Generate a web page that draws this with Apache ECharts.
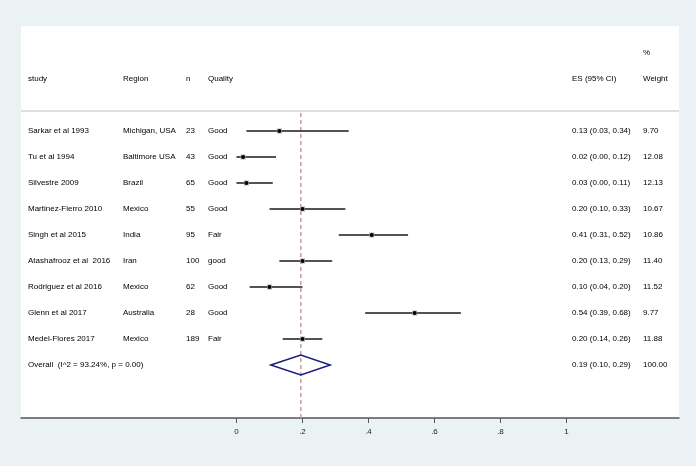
<!DOCTYPE html>
<html><head><meta charset="utf-8">
<script src="https://cdn.jsdelivr.net/npm/echarts@6/dist/echarts.min.js"></script>
<style>html,body{margin:0;padding:0;background:#eaf2f3}#c{width:696px;height:466px}</style>
</head><body><div id="c"></div>
<script>
const studies=["Sarkar et al 1993","Tu et al 1994","Silvestre 2009","Martinez-Fierro 2010","Singh et al 2015","Atashafrooz et al  2016","Rodriguez et al 2016","Glenn et al 2017","Medel-Flores 2017"];
const regions=["Michigan, USA","Baltimore USA","Brazil","Mexico","India","Iran","Mexico","Australia","Mexico"];
const sampleN=["23","43","65","55","95","100","62","28","189"];
const quality=["Good","Good","Good","Good","Fair","good","Good","Good","Fair"];
const es=[0.13,0.02,0.03,0.20,0.41,0.20,0.10,0.54,0.20];
const lo=[0.03,0.00,0.00,0.10,0.31,0.13,0.04,0.39,0.14];
const hi=[0.34,0.12,0.11,0.33,0.52,0.29,0.20,0.68,0.26];
const esLabels=["0.13 (0.03, 0.34)","0.02 (0.00, 0.12)","0.03 (0.00, 0.11)","0.20 (0.10, 0.33)","0.41 (0.31, 0.52)","0.20 (0.13, 0.29)","0.10 (0.04, 0.20)","0.54 (0.39, 0.68)","0.20 (0.14, 0.26)"];
const weights=["9.70","12.08","12.13","10.67","10.86","11.40","11.52","9.77","11.88"];
const overallLabel="Overall  (I^2 = 93.24%, p = 0.00)";
const overallEs=0.195, overallLo=0.104, overallHi=0.284;
const overallEsLabel="0.19 (0.10, 0.29)";
const overallWeight="100.00";
const headers=["study","Region","n","Quality","ES (95% CI)","Weight"];
const headerTop="%";
const tickValues=[0,0.2,0.4,0.6,0.8,1];
const tickLabels=["0",".2",".4",".6",".8","1"];

const FONT='8px "Liberation Sans", Arial, sans-serif';
const TXT='#000000';
const COLX=[28,123,186,208,572,643];
const HEADER_ROW=-2, TOP_ROW=-3, LINE_ROW=-0.77;
const nStudies=studies.length;
const overallRow=nStudies;

function txt(x,y,s){return {type:'text',style:{x:x,y:y,text:s,fill:TXT,font:FONT,verticalAlign:'middle',align:'left'}};}

const textData=[];
for(let i=0;i<nStudies;i++) textData.push([0,i,i]);
textData.push([0,overallRow,-1]);

const chart=echarts.init(document.getElementById('c'),null,{renderer:'canvas'});
chart.setOption({
  backgroundColor:'#eaf2f3',
  animation:false,
  grid:{left:21,right:17,top:26,bottom:48,show:true,backgroundColor:'#ffffff',borderWidth:0},
  xAxis:{type:'value',min:-0.653,max:1.341,
    axisLine:{show:true,onZero:false,lineStyle:{color:'#555555',width:1.5}},
    splitLine:{show:false},
    axisTick:{show:true,customValues:tickValues,length:5,lineStyle:{color:'#555555',width:1}},
    axisLabel:{customValues:tickValues,margin:10,color:'#222222',fontSize:8,fontFamily:'"Liberation Sans", Arial, sans-serif',
      formatter:function(v){const k=tickValues.findIndex(t=>Math.abs(t-v)<1e-9);return k>=0?tickLabels[k]:'';}}
  },
  yAxis:{type:'value',inverse:true,min:-4.038,max:11.038,show:false},
  series:[
    {type:'custom',name:'header',data:[[0,HEADER_ROW]],silent:true,
     renderItem:function(params,api){
       const cs=params.coordSys;
       const y=api.coord([0,HEADER_ROW])[1];
       const yt=api.coord([0,TOP_ROW])[1];
       const yl=api.coord([0,LINE_ROW])[1];
       const ch=headers.map((h,k)=>txt(COLX[k],y,h));
       ch.push(txt(COLX[5],yt,headerTop));
       ch.push({type:'line',shape:{x1:cs.x,y1:yl,x2:cs.x+cs.width,y2:yl},style:{stroke:'#d4d4d4',lineWidth:1.5}});
       return {type:'group',children:ch};
     }},
    {type:'custom',name:'text',data:textData,silent:true,
     renderItem:function(params,api){
       const r=api.value(1), idx=api.value(2);
       const y=api.coord([0,r])[1];
       if(idx<0){
         return {type:'group',children:[txt(COLX[0],y,overallLabel),txt(COLX[4],y,overallEsLabel),txt(COLX[5],y,overallWeight)]};
       }
       return {type:'group',children:[
         txt(COLX[0],y,studies[idx]),txt(COLX[1],y,regions[idx]),txt(COLX[2],y,sampleN[idx]),
         txt(COLX[3],y,quality[idx]),txt(COLX[4],y,esLabels[idx]),txt(COLX[5],y,weights[idx])]};
     }},
    {type:'custom',name:'overall',data:[[overallEs,overallLo,overallHi,overallRow]],silent:true,
     renderItem:function(params,api){
       const cs=params.coordSys;
       const r=api.value(3);
       const c=api.coord([api.value(0),r]);
       const l=api.coord([api.value(1),r]);
       const h=api.coord([api.value(2),r]);
       const yl=api.coord([0,LINE_ROW])[1];
       const hh=10;
       return {type:'group',children:[
         {type:'line',shape:{x1:c[0],y1:yl+2,x2:c[0],y2:cs.y+cs.height},style:{stroke:'#c99a9a',lineWidth:1.5,lineDash:[4,3]}},
         {type:'polygon',shape:{points:[[l[0],c[1]],[c[0],c[1]-hh],[h[0],c[1]],[c[0],c[1]+hh]]},style:{fill:'rgba(0,0,0,0)',stroke:'#1c1c80',lineWidth:1.5}}
       ]};
     }},
    {type:'custom',name:'studies',silent:true,
     data:es.map((v,i)=>[v,lo[i],hi[i],i]),
     renderItem:function(params,api){
       const r=api.value(3);
       const p=api.coord([api.value(0),r]);
       const l=api.coord([api.value(1),r]);
       const h=api.coord([api.value(2),r]);
       return {type:'group',children:[
         {type:'line',shape:{x1:l[0],y1:p[1],x2:h[0],y2:p[1]},style:{stroke:'#1a1a1a',lineWidth:1.6}},
         {type:'rect',shape:{x:p[0]-2.5,y:p[1]-2.5,width:5,height:5},style:{fill:'#b0b0b0'}},
         {type:'circle',shape:{cx:p[0],cy:p[1],r:2},style:{fill:'#000000'}}
       ]};
     }}
  ]
});
</script></body></html>
